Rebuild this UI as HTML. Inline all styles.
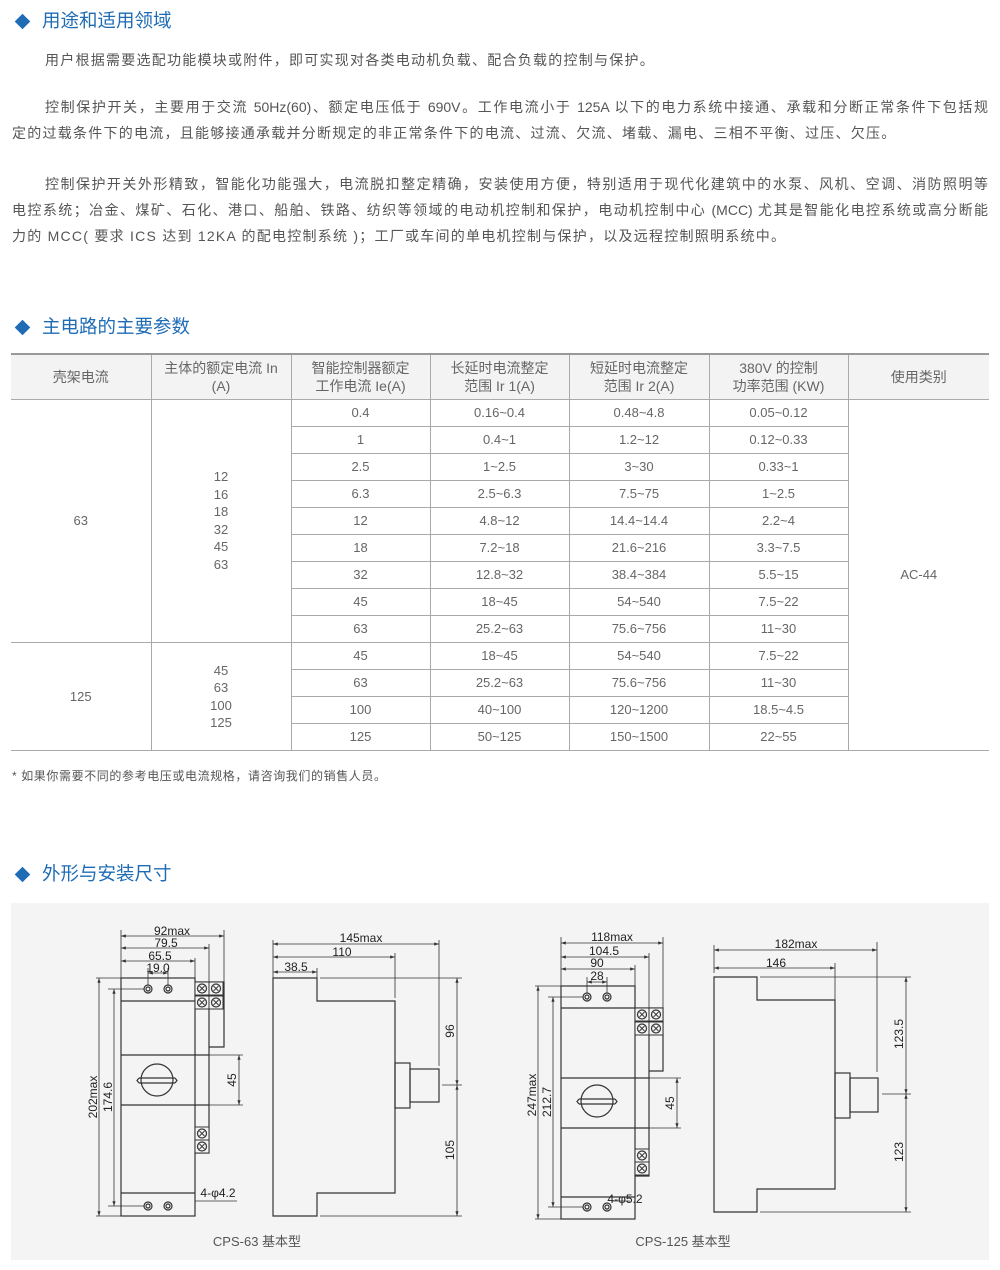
<!DOCTYPE html>
<html><head><meta charset="utf-8"><style>
*{margin:0;padding:0;box-sizing:border-box}
body{width:1000px;height:1270px;background:#fff;position:relative;font-family:"Liberation Sans","Noto Sans CJK SC",sans-serif;color:#555;overflow:hidden}
.h{position:absolute;left:14px;font-size:18.5px;color:#1f6cb5;height:24px;line-height:24px}
.h span{display:inline-block;width:11px;height:11px;background:#1f6cb5;transform:rotate(45deg);margin:0 14px 2px 3px;vertical-align:middle}
.l{position:absolute;left:12px;width:976px;font-size:14px;line-height:20px;white-space:nowrap;color:#555;letter-spacing:1.25px}
.j{text-align:justify;text-align-last:justify;white-space:normal;letter-spacing:0}
.ind{padding-left:33px}
table{position:absolute;left:11px;top:353px;width:978px;border-collapse:collapse;font-size:13px;color:#666;text-align:center}
td{border:1px solid #aaa;height:27.05px;line-height:16px;padding:0}
th{font-weight:normal;background:#f3f3f3;border:1px solid #aaa;border-top:2px solid #999;height:45px;font-size:14px;line-height:18px;color:#666}
tr>*:first-child{border-left:none}tr>*:last-child{border-right:none}
</style></head><body>
<div class="h" style="top:9px"><span></span>用途和适用领域</div>
<div class="l ind" style="top:50px">用户根据需要选配功能模块或附件，即可实现对各类电动机负载、配合负载的控制与保护。</div>
<div class="l j ind" style="top:97px">控制保护开关，主要用于交流 50Hz(60)、额定电压低于 690V。工作电流小于 125A 以下的电力系统中接通、承载和分断正常条件下包括规</div>
<div class="l" style="top:123px">定的过载条件下的电流，且能够接通承载并分断规定的非正常条件下的电流、过流、欠流、堵载、漏电、三相不平衡、过压、欠压。</div>
<div class="l j ind" style="top:174px">控制保护开关外形精致，智能化功能强大，电流脱扣整定精确，安装使用方便，特别适用于现代化建筑中的水泵、风机、空调、消防照明等</div>
<div class="l j" style="top:200px">电控系统；冶金、煤矿、石化、港口、船舶、铁路、纺织等领域的电动机控制和保护，电动机控制中心 (MCC) 尤其是智能化电控系统或高分断能</div>
<div class="l" style="top:226px">力的 MCC( 要求 ICS 达到 12KA 的配电控制系统 )；工厂或车间的单电机控制与保护，以及远程控制照明系统中。</div>
<div class="h" style="top:315px"><span></span>主电路的主要参数</div>
<table>
<tr><th style="width:140px">壳架电流</th><th style="width:140px">主体的额定电流 In<br>(A)</th><th style="width:139px">智能控制器额定<br>工作电流 Ie(A)</th><th style="width:139px">长延时电流整定<br>范围 Ir 1(A)</th><th style="width:140px">短延时电流整定<br>范围 Ir 2(A)</th><th style="width:139px">380V 的控制<br>功率范围 (KW)</th><th>使用类别</th></tr>
<tr><td rowspan="9">63</td><td rowspan="9" style="line-height:17.5px">12<br>16<br>18<br>32<br>45<br>63</td><td>0.4</td><td>0.16~0.4</td><td>0.48~4.8</td><td>0.05~0.12</td><td rowspan="13">AC-44</td></tr>
<tr><td>1</td><td>0.4~1</td><td>1.2~12</td><td>0.12~0.33</td></tr>
<tr><td>2.5</td><td>1~2.5</td><td>3~30</td><td>0.33~1</td></tr>
<tr><td>6.3</td><td>2.5~6.3</td><td>7.5~75</td><td>1~2.5</td></tr>
<tr><td>12</td><td>4.8~12</td><td>14.4~14.4</td><td>2.2~4</td></tr>
<tr><td>18</td><td>7.2~18</td><td>21.6~216</td><td>3.3~7.5</td></tr>
<tr><td>32</td><td>12.8~32</td><td>38.4~384</td><td>5.5~15</td></tr>
<tr><td>45</td><td>18~45</td><td>54~540</td><td>7.5~22</td></tr>
<tr><td>63</td><td>25.2~63</td><td>75.6~756</td><td>11~30</td></tr>
<tr><td rowspan="4">125</td><td rowspan="4" style="line-height:17.5px">45<br>63<br>100<br>125</td><td>45</td><td>18~45</td><td>54~540</td><td>7.5~22</td></tr>
<tr><td>63</td><td>25.2~63</td><td>75.6~756</td><td>11~30</td></tr>
<tr><td>100</td><td>40~100</td><td>120~1200</td><td>18.5~4.5</td></tr>
<tr><td>125</td><td>50~125</td><td>150~1500</td><td>22~55</td></tr>
</table>
<div class="l" style="top:766px;font-size:12px;letter-spacing:0.6px">* 如果你需要不同的参考电压或电流规格，请咨询我们的销售人员。</div>
<div class="h" style="top:862px"><span></span>外形与安装尺寸</div>
<svg style="position:absolute;left:0;top:0" width="1000" height="1270" viewBox="0 0 1000 1270">
<defs>
<g id="t"><rect x="0" y="0" width="14" height="13" fill="#f4f4f4" stroke="#333" stroke-width="1"/><circle cx="7" cy="6.5" r="4.5" fill="none" stroke="#333"/><path d="M4.5 4l5 5M9.5 4l-5 5" stroke="#333" stroke-width="0.9"/></g>
<g id="s"><circle r="4" fill="none" stroke="#333"/><circle r="2" fill="none" stroke="#333"/></g>
<marker id="a" markerWidth="6" markerHeight="6" refX="6" refY="3" orient="auto-start-reverse"><path d="M0 1L6 3L0 5z" fill="#333"/></marker>
</defs>
<rect x="11" y="903" width="978" height="357" fill="#f4f4f4"/>
<g fill="none" stroke="#333" stroke-width="1.2" font-family="Liberation Sans,sans-serif">
<rect x="121" y="978" width="74" height="238"/>
<line x1="121" y1="1001" x2="195" y2="1001"/><line x1="121" y1="1055" x2="209" y2="1055"/><line x1="121" y1="1105" x2="209" y2="1105"/><line x1="121" y1="1193" x2="195" y2="1193"/>
<polyline points="195,982 209,982 209,1153 195,1153"/>
<polyline points="209,982 224,982 224,1047 209,1047"/>
<use href="#t" x="195" y="982"/><use href="#t" x="209" y="982"/><use href="#t" x="195" y="996"/><use href="#t" x="209" y="996"/>
<use href="#t" x="195" y="1127"/><use href="#t" x="195" y="1140"/>
<use href="#s" x="148" y="989"/><use href="#s" x="168" y="989"/><use href="#s" x="148" y="1206"/><use href="#s" x="168" y="1206"/>
<circle cx="157" cy="1080" r="16"/><path d="M139 1078h36M139 1083h36M139 1078l-2 2.5 2 2.5M175 1078l2 2.5-2 2.5" />
<g stroke-width="0.8">
<line x1="121" y1="936" x2="224" y2="936" marker-start="url(#a)" marker-end="url(#a)"/>
<line x1="121" y1="948" x2="209" y2="948" marker-start="url(#a)" marker-end="url(#a)"/>
<line x1="121" y1="961" x2="195" y2="961" marker-start="url(#a)" marker-end="url(#a)"/>
<line x1="148" y1="973" x2="168" y2="973" marker-start="url(#a)" marker-end="url(#a)"/>
<path d="M121 930v48M224 930v52M209 944v38M195 958v20M148 968v17M168 968v17"/>
<line x1="99" y1="978" x2="99" y2="1216" marker-start="url(#a)" marker-end="url(#a)"/>
<line x1="114" y1="989" x2="114" y2="1206" marker-start="url(#a)" marker-end="url(#a)"/>
<path d="M96 978h25M96 1216h25M108 989h36M108 1206h36"/>
<line x1="239" y1="1055" x2="239" y2="1105" marker-start="url(#a)" marker-end="url(#a)"/>
<path d="M209 1055h34M209 1105h34M195 1201h42"/>
</g>
<polygon points="273,978 317,978 317,1001 395,1001 395,1193 317,1193 317,1216 273,1216"/>
<rect x="395" y="1063" width="15" height="45"/><rect x="410" y="1069" width="29" height="33"/>
<g stroke-width="0.8">
<line x1="273" y1="944" x2="439" y2="944" marker-start="url(#a)" marker-end="url(#a)"/>
<line x1="273" y1="957" x2="395" y2="957" marker-start="url(#a)" marker-end="url(#a)"/>
<line x1="273" y1="972" x2="317" y2="972" marker-start="url(#a)" marker-end="url(#a)"/>
<path d="M273 940v38M439 940v126M395 953v45M317 968v10"/>
<line x1="457" y1="978" x2="457" y2="1085" marker-start="url(#a)" marker-end="url(#a)"/>
<line x1="457" y1="1085" x2="457" y2="1216" marker-start="url(#a)" marker-end="url(#a)"/>
<path d="M320 978h142M320 1216h142M442 1085h20"/>
</g>
<rect x="561" y="986" width="74" height="233"/>
<line x1="561" y1="1008" x2="635" y2="1008"/><line x1="561" y1="1078" x2="649" y2="1078"/><line x1="561" y1="1128" x2="649" y2="1128"/><line x1="561" y1="1197" x2="635" y2="1197"/>
<polyline points="635,1008 649,1008 649,1176 635,1176"/>
<polyline points="649,1008 663,1008 663,1071 649,1071"/>
<use href="#t" x="635" y="1008"/><use href="#t" x="649" y="1008"/><use href="#t" x="635" y="1022"/><use href="#t" x="649" y="1022"/>
<use href="#t" x="635" y="1149"/><use href="#t" x="635" y="1162"/>
<use href="#s" x="587" y="997"/><use href="#s" x="607" y="997"/><use href="#s" x="587" y="1207"/><use href="#s" x="607" y="1207"/>
<circle cx="597" cy="1101" r="16"/><path d="M579 1099h36M579 1104h36M579 1099l-2 2.5 2 2.5M615 1099l2 2.5-2 2.5"/>
<g stroke-width="0.8">
<line x1="561" y1="943" x2="663" y2="943" marker-start="url(#a)" marker-end="url(#a)"/>
<line x1="561" y1="957" x2="649" y2="957" marker-start="url(#a)" marker-end="url(#a)"/>
<line x1="561" y1="969" x2="635" y2="969" marker-start="url(#a)" marker-end="url(#a)"/>
<line x1="587" y1="982" x2="607" y2="982" marker-start="url(#a)" marker-end="url(#a)"/>
<path d="M561 937v49M663 937v71M649 953v55M635 965v21M587 977v16M607 977v16"/>
<line x1="538" y1="986" x2="538" y2="1219" marker-start="url(#a)" marker-end="url(#a)"/>
<line x1="553" y1="997" x2="553" y2="1207" marker-start="url(#a)" marker-end="url(#a)"/>
<path d="M535 986h26M535 1219h26M548 997h35M548 1207h35"/>
<line x1="677" y1="1078" x2="677" y2="1128" marker-start="url(#a)" marker-end="url(#a)"/>
<path d="M649 1078h32M649 1128h32M612 1201h18"/>
</g>
<polygon points="714,977 757,977 757,1000 835,1000 835,1189 757,1189 757,1212 714,1212"/>
<rect x="835" y="1073" width="15" height="45"/><rect x="850" y="1078" width="28" height="34"/>
<g stroke-width="0.8">
<line x1="714" y1="950" x2="877" y2="950" marker-start="url(#a)" marker-end="url(#a)"/>
<line x1="714" y1="968" x2="835" y2="968" marker-start="url(#a)" marker-end="url(#a)"/>
<path d="M714 945v28M877 942v130M835 963v37"/>
<line x1="906" y1="977" x2="906" y2="1094" marker-start="url(#a)" marker-end="url(#a)"/>
<line x1="906" y1="1094" x2="906" y2="1212" marker-start="url(#a)" marker-end="url(#a)"/>
<path d="M760 977h151M760 1212h151M882 1094h29"/>
</g>
</g>
<g font-family="Liberation Sans,sans-serif" font-size="12" fill="#222" text-anchor="middle">
<text x="172" y="935">92max</text><text x="166" y="947">79.5</text><text x="160" y="960">65.5</text><text x="158" y="972">19.0</text>
<text x="97" y="1097" transform="rotate(-90 97 1097)">202max</text><text x="112" y="1097" transform="rotate(-90 112 1097)">174.6</text>
<text x="236" y="1080" transform="rotate(-90 236 1080)">45</text>
<text x="218" y="1197">4-φ4.2</text>
<text x="361" y="942">145max</text><text x="342" y="956">110</text><text x="296" y="971">38.5</text>
<text x="454" y="1031" transform="rotate(-90 454 1031)">96</text><text x="454" y="1150" transform="rotate(-90 454 1150)">105</text>
<text x="612" y="941">118max</text><text x="604" y="955">104.5</text><text x="597" y="967">90</text><text x="597" y="980">28</text>
<text x="536" y="1095" transform="rotate(-90 536 1095)">247max</text><text x="551" y="1102" transform="rotate(-90 551 1102)">212.7</text>
<text x="674" y="1103" transform="rotate(-90 674 1103)">45</text>
<text x="625" y="1203">4-φ5.2</text>
<text x="796" y="948">182max</text><text x="776" y="967">146</text>
<text x="903" y="1034" transform="rotate(-90 903 1034)">123.5</text><text x="903" y="1152" transform="rotate(-90 903 1152)">123</text>
</g>
<g font-family="Liberation Sans,Noto Sans CJK SC,sans-serif" font-size="13" fill="#555" text-anchor="middle">
<text x="257" y="1246">CPS-63 基本型</text><text x="683" y="1246">CPS-125 基本型</text>
</g>
</svg>
</body></html>
